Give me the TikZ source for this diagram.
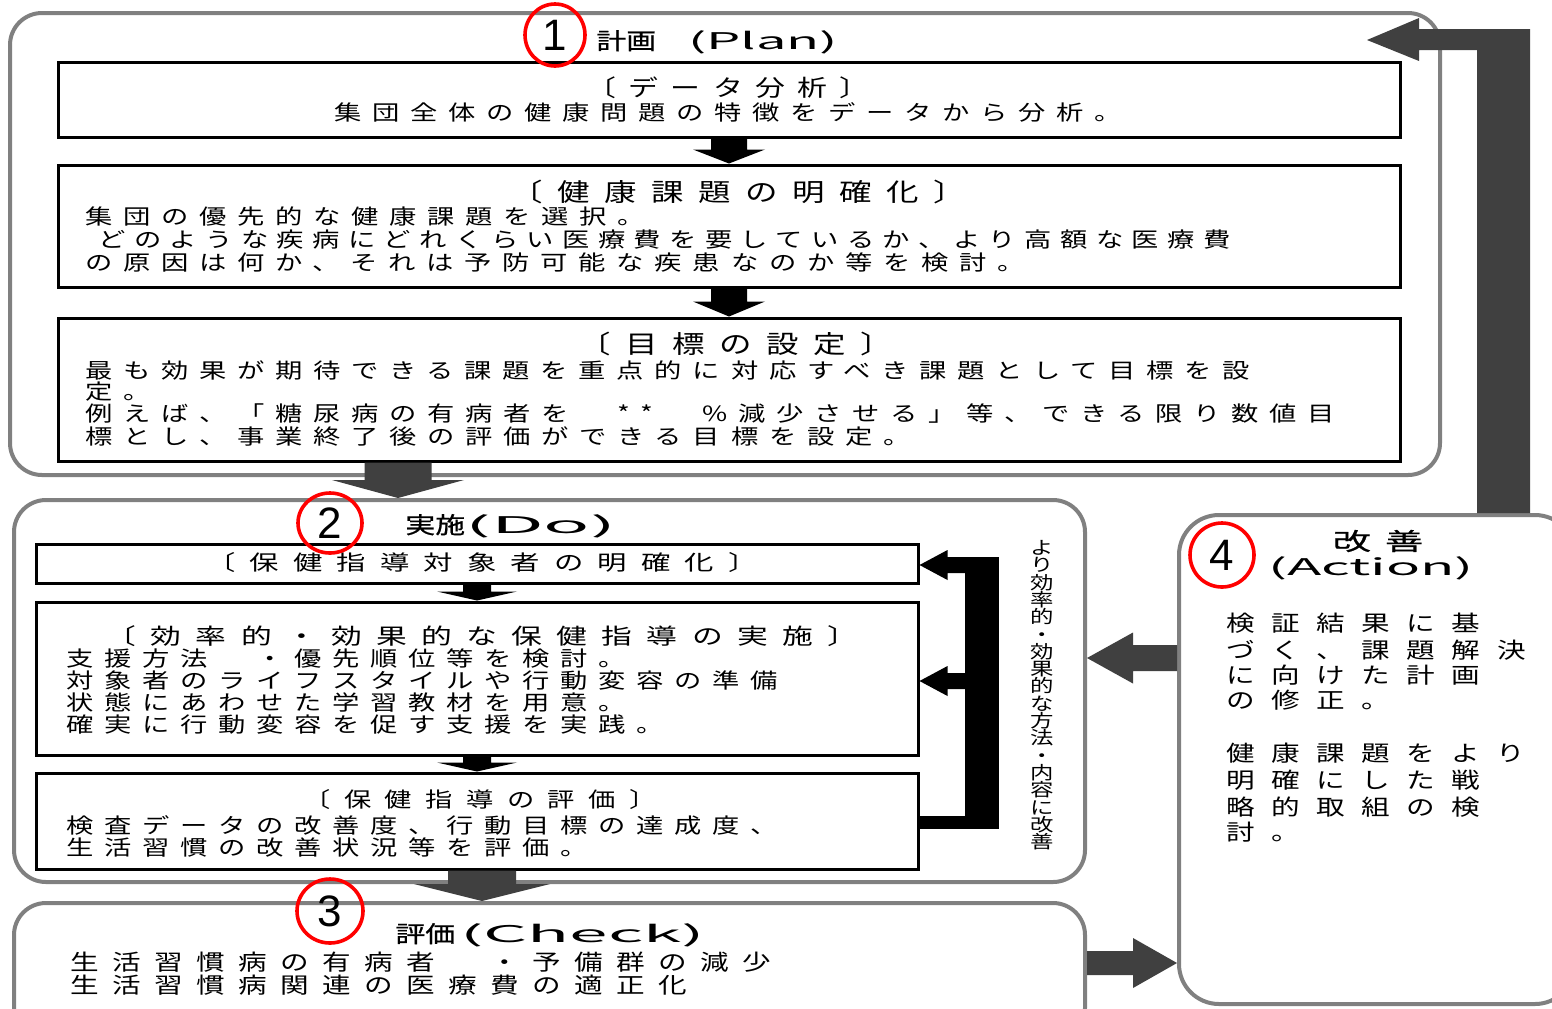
\documentclass[tikz,border=0pt]{standalone}
\usepackage{fontspec}
\usepackage{graphicx}
\usetikzlibrary{calc,shapes.geometric}
\setmainfont{Noto Sans CJK JP}
\newfontfamily\digitfont{Liberation Sans}
\newcommand\jpf[3]{\fontspec{Noto Sans CJK JP}[FakeStretch=#2,LetterSpace=#3]\fontsize{#1}{#1}\selectfont}
\newcommand\jpfb[3]{\fontspec{Noto Sans CJK JP}[FakeStretch=#2,LetterSpace=#3,FakeBold=0.7]\fontsize{#1}{#1}\selectfont}
\newcommand\fpb{\jpf{10.5pt}{1.3}{51}}
\newcommand\fpbn{\jpf{10.5pt}{1.3}{40}}
\newcommand\fpa{\jpf{11.5pt}{1.3}{53}}
\newcommand\fpt{\jpf{12.5pt}{1.3}{58}}
\newcommand\fdone{\jpf{10.5pt}{1.4}{67}}
\newcommand\fdtwo{\jpf{11pt}{1.4}{65}}
\newcommand\fdthree{\jpf{10.5pt}{1.3}{64}}
\newcommand\fchk{\jpf{11pt}{1.3}{61}}
\newcommand\fact{\jpf{11pt}{1.3}{75}}
\newcommand\fvert{\jpf{9pt}{1.3}{0}\fontsize{9pt}{8.65pt}\selectfont}
\newcommand\fttl{\jpfb{11.5pt}{1.3}{0}}
\newcommand\fttlat{\jpf{11.5pt}{1.3}{0}}
\newcommand\fttlb{\jpfb{12pt}{1.6}{58}}
\definecolor{darkarr}{HTML}{404040}
\definecolor{boxgray}{HTML}{808080}
% block arrows: style, from, to, shaft half, head half, head length
\newcommand\arrdown[6]{\fill[#1] let \p1=(#2), \p2=(#3) in
 (\x1-#4,\y1) -- (\x1+#4,\y1) -- (\x1+#4,\y2+#6) -- (\x1+#5,\y2+#6) -- (\x1,\y2) -- (\x1-#5,\y2+#6) -- (\x1-#4,\y2+#6) -- cycle;}
\newcommand\arrleft[6]{\fill[#1] let \p1=(#2), \p2=(#3) in
 (\x1,\y1+#4) -- (\x1,\y1-#4) -- (\x2+#6,\y1-#4) -- (\x2+#6,\y1-#5) -- (\x2,\y1) -- (\x2+#6,\y1+#5) -- (\x2+#6,\y1+#4) -- cycle;}
\newcommand\arrright[6]{\fill[#1] let \p1=(#2), \p2=(#3) in
 (\x1,\y1+#4) -- (\x1,\y1-#4) -- (\x2-#6,\y1-#4) -- (\x2-#6,\y1-#5) -- (\x2,\y1) -- (\x2-#6,\y1+#5) -- (\x2-#6,\y1+#4) -- cycle;}
\begin{document}
\begin{tikzpicture}[x=0.5pt,y=-0.5pt,
  outer/.style={draw=boxgray, line width=2pt, rounded corners=16pt, fill=white, inner sep=0pt},
  ibox/.style={draw=black, line width=1.5pt, fill=white, inner sep=0pt},
  numc/.style={ellipse, draw=red, line width=1.8pt, inner sep=0pt, font=\digitfont\fontsize{22pt}{22pt}\selectfont},
  txt/.style={anchor=west, inner sep=0pt},
  ctxt/.style={anchor=center, inner sep=0pt}]
\useasboundingbox (0,0) rectangle (1552,1008);
\fill[white] (0,0) rectangle (1552,1008);
\clip (0,0) rectangle (1552,1008);

% outer section boxes
\node[outer, minimum width=715pt, minimum height=231pt] (Plan) at (725,244) {};
\node[outer, minimum width=535.5pt, minimum height=191pt] (Do) at (549.5,691) {};
\node[outer, minimum width=535.5pt, minimum height=68.5pt] (Check) at (549.5,971.5) {};
\node[outer, rounded corners=20pt, minimum width=198pt, minimum height=244.5pt] (Act) at (1377,759.5) {};

% inner boxes
\node[ibox, minimum width=671pt, minimum height=37.5pt] (A) at (729,99.5) {};
\node[ibox, minimum width=671pt, minimum height=61pt] (B) at (729,226) {};
\node[ibox, minimum width=671pt, minimum height=71.5pt] (C) at (729,389.5) {};
\node[ibox, minimum width=441pt, minimum height=19.5pt] (D1) at (477,563.5) {};
\node[ibox, minimum width=441pt, minimum height=76.5pt] (D2) at (477,678.5) {};
\node[ibox, minimum width=441pt, minimum height=48pt] (D3) at (477,821) {};

% titles
\node[txt] (t1) at (596,42) {\fttl 計画\hspace{16pt}\fttlat\resizebox{75pt}{\height}{(Plan)}};
\node[txt] (t2) at (405,526) {\fttl 実施\fttlat\resizebox{75.5pt}{\height}{(Do)}};
\node[txt] (t3) at (395,935) {\fttl 評価\hspace{2.5pt}\fttlat\resizebox{122.5pt}{\height}{(Check)}};
\node[ctxt, font=\fttlb] (t4a) at (1378,541) {改善};
\node[ctxt] (t4b) at (1371,568) {\fttlat\resizebox{103pt}{\height}{(Action)}};

% Plan texts
\node[ctxt, font=\fpa] (At) at (728,88) {〔データ分析〕};
\node[ctxt, font=\fpb] (Al) at (728,112) {集団全体の健康問題の特徴をデータから分析。};
\node[ctxt, font=\fpt] (Bt) at (738,192) {〔健康課題の明確化〕};
\node[txt, font=\fpb] (Bl1) at (85,217) {集団の優先的な健康課題を選択。};
\node[txt, font=\fpbn] (Bl2) at (98,240) {どのような疾病にどれくらい医療費を要しているか、より高額な医療費};
\node[txt, font=\fpb] (Bl3) at (85,263) {の原因は何か、それは予防可能な疾患なのか等を検討。};
\node[ctxt, font=\fpt] (Ct) at (736,344) {〔目標の設定〕};
\node[txt, font=\fpb] (Cl1) at (85,370) {最も効果が期待できる課題を重点的に対応すべき課題として目標を設};
\node[txt, font=\fpb] (Cl2) at (85,392) {定。};
\node[txt, font=\fpb] (Cl3) at (85,414) {例えば、「糖尿病の有病者を　**　\%減少させる」等、できる限り数値目};
\node[txt, font=\fpb] (Cl4) at (85,436) {標とし、事業終了後の評価ができる目標を設定。};

% Do texts
\node[ctxt, font=\fdone] (D1t) at (482,563) {〔保健指導対象者の明確化〕};
\node[ctxt, font=\fdtwo] (D2t) at (482,636) {〔効率的・効果的な保健指導の実施〕};
\node[txt, font=\fpb] (D2l1) at (66,659) {支援方法　・優先順位等を検討。};
\node[txt, font=\fpb] (D2l2) at (66,681) {対象者のライフスタイルや行動変容の準備};
\node[txt, font=\fpb] (D2l3) at (66,703) {状態にあわせた学習教材を用意。};
\node[txt, font=\fpb] (D2l4) at (66,725) {確実に行動変容を促す支援を実践。};
\node[ctxt, font=\fdthree] (D3t) at (480,800) {〔保健指導の評価〕};
\node[txt, font=\fpb] (D3l1) at (66,825) {検査データの改善度、行動目標の達成度、};
\node[txt, font=\fpb] (D3l2) at (66,847) {生活習慣の改善状況等を評価。};

% vertical label
\node[inner sep=0pt, align=center, anchor=north, font=\fvert] (vt) at (1042,540)
 {よ\\り\\効\\率\\的\\・\\効\\果\\的\\な\\方\\法\\・\\内\\容\\に\\改\\善};

% Check texts
\node[txt, font=\fchk] (Kl1) at (70,962) {生活習慣病の有病者　・予備群の減少};
\node[txt, font=\fchk] (Kl2) at (70,985) {生活習慣病関連の医療費の適正化};

% Action texts
\foreach \yy/\lt [count=\i] in {623/検証結果に基, 650/づく、課題解決, 675/に向けた計画, 700/の修正。, 753/健康課題をより, 780/明確にした戦, 807/略的取組の検, 832/討。}
  \node[txt, font=\fact] (al\i) at (1226,\yy) {\lt};

% connectors inside boxes
\arrdown{black}{A.south}{B.north}{9pt}{18pt}{7pt}
\arrdown{black}{B.south}{C.north}{9pt}{18pt}{7.5pt}
\arrdown{black}{D1.south}{D2.north}{7pt}{20pt}{4.5pt}
\arrdown{black}{D2.south}{D3.north}{7pt}{20pt}{4.5pt}

% feedback bracket
\coordinate (fbtop) at (965,557);
\coordinate (fbbot) at (999,829);
\coordinate (fbh) at (999,816);
\fill[black] (fbtop) rectangle (fbbot);
\fill[black] (D3.east |- fbh) rectangle (fbbot);
\coordinate (fb1) at (966,565);
\coordinate (fb2) at (966,681);
\arrleft{black}{fb1}{D1.east}{4pt}{7.5pt}{14pt}
\arrleft{black}{fb2}{D2.east}{4pt}{7.5pt}{14pt}

% main flow arrows
\coordinate (pdx) at (398,0);
\coordinate (dcx) at (482,0);
\coordinate (adY) at (0,658);
\coordinate (caY) at (0,963);
\arrdown{darkarr}{C.south -| pdx}{Do.north}{16.75pt}{33pt}{9pt}
\arrdown{darkarr}{D3.south -| dcx}{Check.north}{17pt}{34pt}{8.5pt}
\arrleft{darkarr}{Act.west |- adY}{Do.east}{6.5pt}{12.75pt}{23pt}
\arrright{darkarr}{Check.east |- caY}{Act.west}{6pt}{12.5pt}{22pt}

% Action -> Plan return arrow
\coordinate (apL) at (1477,50);
\coordinate (apS) at (1419,50);
\coordinate (apH1) at (1419,61);
\coordinate (aptip) at (1367,40);
\coordinate (apH2) at (1419,18);
\coordinate (apS2) at (1419,29);
\coordinate (apR) at (1530,29);
\fill[darkarr] (Act.north -| apL) -- (apL) -- (apS) -- (apH1) -- (aptip) -- (apH2) -- (apS2) -- (apR) -- (Act.north -| apR) -- cycle;

% numbered circles
\node[numc, minimum width=30pt, minimum height=31pt] (n1) at (555,35) {1};
\node[numc, minimum width=32pt, minimum height=30pt] (n2) at (330,523) {2};
\node[numc, minimum width=33pt, minimum height=32pt] (n3) at (330,911) {3};
\node[numc, minimum width=32pt, minimum height=32pt] (n4) at (1222,555) {4};
\end{tikzpicture}
\end{document}
